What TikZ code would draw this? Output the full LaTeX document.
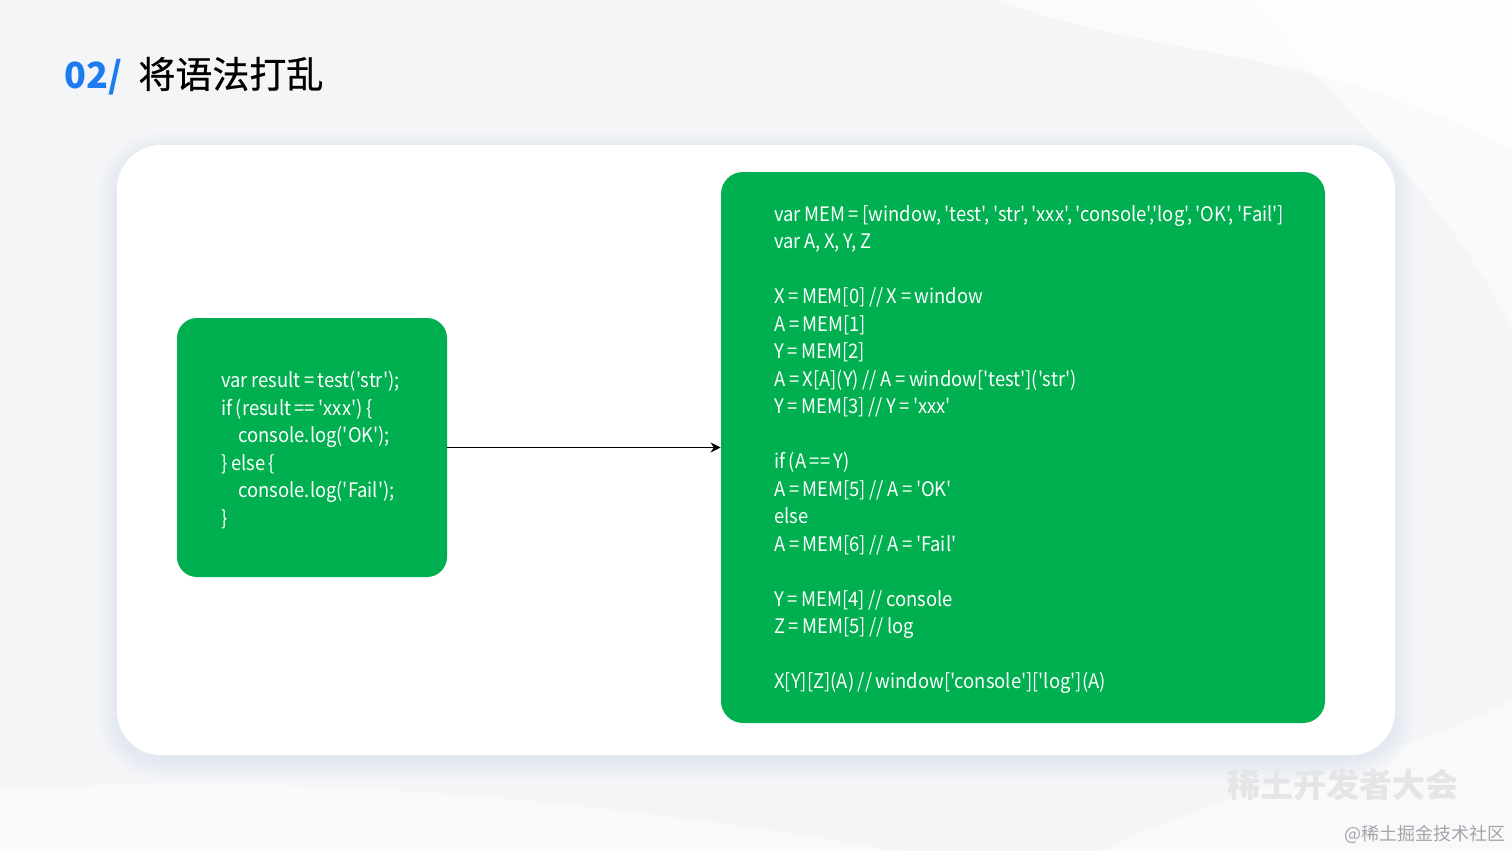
\documentclass[tikz,border=0pt]{standalone}
\usepackage{fontspec}
\newfontfamily\cjk{Noto Sans CJK SC}[Ligatures=TeXOff]
\newfontfamily\titlefont{Noto Sans CJK SC}[Ligatures=TeXOff,FakeBold=0.6]
\newfontfamily\codefont{Noto Sans CJK SC}[Ligatures=TeXOff,FakeStretch=0.92,WordSpace=0.85]
\usetikzlibrary{arrows.meta}
\definecolor{bggray}{HTML}{F4F5F7}
\definecolor{codegreen}{HTML}{00B050}
\definecolor{titleblue}{HTML}{1C7BEF}
\definecolor{wmgray}{HTML}{E4E5E7}
\definecolor{wmtext}{HTML}{A4A5A8}
\definecolor{shadowblue}{HTML}{C8D2E6}
\tikzset{
  greenbox/.style={fill=codegreen, draw=none, inner sep=0pt},
  codetext/.style={text=white, align=left, inner sep=0pt,
    font=\codefont\fontsize{10pt}{13.75pt}\selectfont},
  connector/.style={draw=black, line width=0.7pt, -{Stealth[length=5pt,width=5pt]}},
  shadowlayer/.style={fill=shadowblue, fill opacity=0.06, draw=none},
}
\begin{document}
\begin{tikzpicture}[x=0.5pt,y=-0.5pt]
\useasboundingbox (0,0) rectangle (1512,851);
% background
\fill[bggray] (0,0) rectangle (1512,851);
\fill[white,opacity=0.6] (1000,0) .. controls (1150,60) and (1300,40) .. (1512,150) -- (1512,0) -- cycle;
\fill[white,opacity=0.5] (1250,0) .. controls (1350,120) and (1450,200) .. (1512,330) -- (1512,0) -- cycle;
\fill[white,opacity=0.4] (1100,851) .. controls (1250,780) and (1400,760) .. (1512,700) -- (1512,851) -- cycle;
\fill[white,opacity=0.4] (0,790) .. controls (300,770) and (600,800) .. (900,851) -- (0,851) -- cycle;
% card shadow
\foreach \d in {2,5,8,11,14,18}{
  \fill[shadowlayer, rounded corners=22pt+\d*0.5pt] (117-\d,145-\d+6) rectangle (1395+\d,755+\d+6);
}
% card
\node[fill=white, rounded corners=22pt, minimum width=639pt, minimum height=305pt, inner sep=0pt] (card) at (756,450) {};
% title
\node[anchor=base west, inner sep=0pt, text=titleblue, font=\cjk\bfseries\fontsize{18pt}{18pt}\selectfont] (num) at (64,89) {02/};
\node[anchor=base west, inner sep=0pt, text=black, font=\titlefont\fontsize{18.5pt}{18.5pt}\selectfont] (title) at (138,88) {将语法打乱};
% boxes
\node[greenbox, rounded corners=10pt, minimum width=135pt, minimum height=129.5pt] (leftbox) at (312,447.5) {};
\node[greenbox, rounded corners=11pt, minimum width=302pt, minimum height=275.5pt] (rightbox) at (1023,447.5) {};
\node[codetext, anchor=north west] (lefttext) at (221,371) {var result = test('str');\\
if (result == 'xxx') \{\\
\hspace*{8.5pt}console.log('OK');\\
\} else \{\\
\hspace*{8.5pt}console.log('Fail');\\
\}};
\node[codetext, anchor=north west] (righttext) at (774,205) {var MEM = [window, 'test', 'str', 'xxx', 'console','log', 'OK', 'Fail']\\
var A, X, Y, Z\\
\mbox{}\\
X = MEM[0] // X = window\\
A = MEM[1]\\
Y = MEM[2]\\
A = X[A](Y) // A = window['test']('str')\\
Y = MEM[3] // Y = 'xxx'\\
\mbox{}\\
if (A == Y)\\
A = MEM[5] // A = 'OK'\\
else\\
A = MEM[6] // A = 'Fail'\\
\mbox{}\\
Y = MEM[4] // console\\
Z = MEM[5] // log\\
\mbox{}\\
X[Y][Z](A) // window['console']['log'](A)};
\draw[connector] (leftbox.east) -- (rightbox.west);
% watermark
\node[anchor=base west, inner sep=0pt, text=wmgray, font=\cjk\bfseries\fontsize{16.5pt}{16.5pt}\selectfont] (wm) at (1227,797) {稀土开发者大会};
\node[anchor=base east, inner sep=0pt, text=wmtext, font=\cjk\fontsize{9pt}{9pt}\selectfont] (wm2) at (1506,840) {@稀土掘金技术社区};
\end{tikzpicture}
\end{document}
